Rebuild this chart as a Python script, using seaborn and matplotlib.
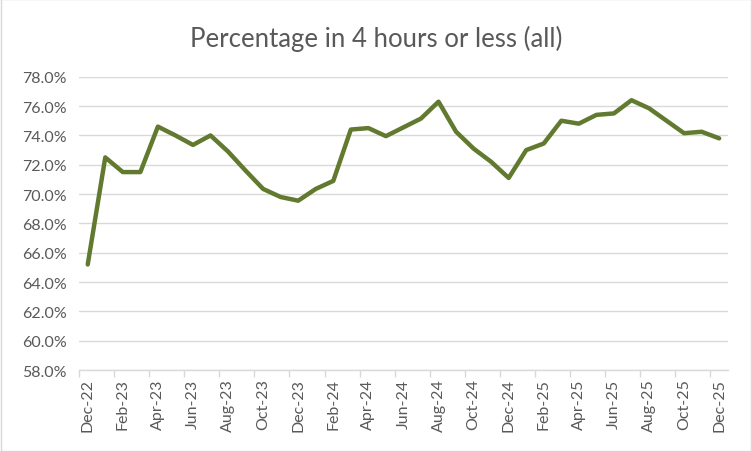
import numpy as np
import pandas as pd
import seaborn as sns
import matplotlib.pyplot as plt
from matplotlib.ticker import FixedLocator, PercentFormatter

sns.set_theme(style="white")
plt.rcParams['font.family'] = ['Lato', 'DejaVu Sans']

months = pd.date_range('2022-12-01', '2025-12-01', freq='MS')
month_labels = [m.strftime('%b-%y') for m in months]

pct = [65.2, 72.5, 71.5, 71.5, 74.6, 74.0, 73.35, 74.0, 72.9, 71.6, 70.35, 69.8, 69.55,
       70.35, 70.9, 74.4, 74.5, 73.95, 74.55, 75.15, 76.3, 74.25, 73.1, 72.2, 71.1,
       73.0, 73.45, 75.0, 74.8, 75.4, 75.5, 76.4, 75.85, 75.0, 74.15, 74.25, 73.8]

df = pd.DataFrame({'idx': np.arange(len(months)), 'pct': pct})

grey = '#595959'
fig = plt.figure(figsize=(7.52, 4.52), dpi=100)
ax = fig.add_axes([0.105, 0.179, 0.863, 0.649])

sns.lineplot(data=df, x='idx', y='pct', ax=ax, color='#617A2F', linewidth=3.2)

ax.set_xlim(-0.5, len(months) - 0.5)
ax.set_ylim(58, 78)
ax.set_yticks(np.arange(58, 78.1, 2))
ax.yaxis.set_major_formatter(PercentFormatter(decimals=1))
ax.grid(axis='y', color='#D9D9D9', linewidth=1)
ax.set_axisbelow(True)

ax.set_xticks(df['idx'][::2])
ax.set_xticklabels(month_labels[::2], rotation=90)
ax.xaxis.set_minor_locator(FixedLocator(np.arange(-0.5, len(months) - 1, 2)))
ax.tick_params(axis='x', which='major', length=0, pad=6, labelsize=11.5, labelcolor=grey)
ax.tick_params(axis='x', which='minor', length=5, width=1, color='#D9D9D9', bottom=True)
ax.tick_params(axis='y', length=0, labelsize=11.5, labelcolor=grey, pad=9)

for s in ['top', 'right', 'left']:
    ax.spines[s].set_visible(False)
ax.spines['bottom'].set_color('#D9D9D9')
ax.spines['bottom'].set_linewidth(1)

ax.set_xlabel('')
ax.set_ylabel('')
fig.text(0.5, 0.914, 'Percentage in 4 hours or less (all)', ha='center', va='center',
         fontsize=18.5, color=grey)

fig.patches.append(plt.Rectangle((0.001, 0.001), 0.998, 0.998, transform=fig.transFigure,
                                 fill=False, edgecolor='#D9D9D9', linewidth=1))

fig.savefig('out.png', dpi=100)
